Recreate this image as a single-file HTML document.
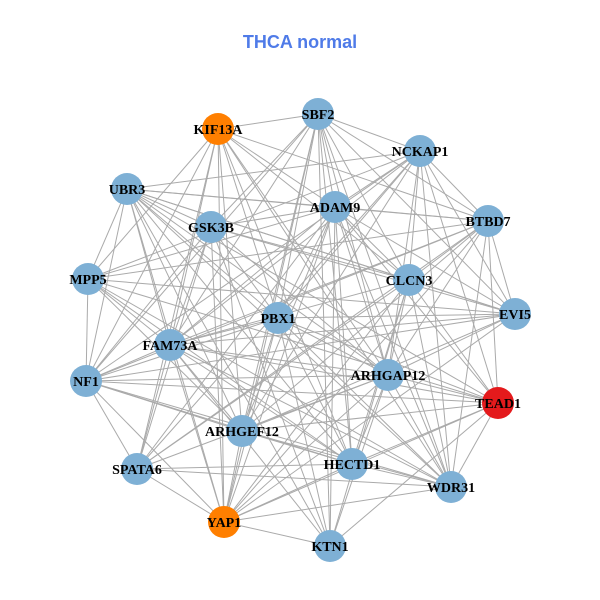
<!DOCTYPE html>
<html><head><meta charset="utf-8"><style>
html,body{margin:0;padding:0;background:#fff;width:600px;height:600px;overflow:hidden}
</style></head><body>
<svg id="g" width="600" height="600" xmlns="http://www.w3.org/2000/svg">
<rect width="600" height="600" fill="#fff"/>
<text x="300" y="48" text-anchor="middle" font-family="Liberation Sans, sans-serif" font-weight="bold" font-size="18" fill="#4F7BE8">THCA normal</text>
<g id="edges" stroke="#aaaaaa" stroke-width="1"></g>
<g id="nodes"></g>
</svg>
<script>
var N=[["SBF2",318,114,"#7EB0D5"],["KIF13A",218,129,"#FF7F00"],["NCKAP1",420,151,"#7EB0D5"],["UBR3",127,189,"#7EB0D5"],["ADAM9",335,207,"#7EB0D5"],["BTBD7",488,221,"#7EB0D5"],["GSK3B",211,227,"#7EB0D5"],["MPP5",88,279,"#7EB0D5"],["CLCN3",409,280,"#7EB0D5"],["EVI5",515,314,"#7EB0D5"],["PBX1",278,318,"#7EB0D5"],["FAM73A",170,345,"#7EB0D5"],["NF1",86,381,"#7EB0D5"],["ARHGAP12",388,375,"#7EB0D5"],["TEAD1",498,403,"#E41A1C"],["ARHGEF12",242,431,"#7EB0D5"],["HECTD1",352,464,"#7EB0D5"],["WDR31",451,487,"#7EB0D5"],["SPATA6",137,469,"#7EB0D5"],["YAP1",224,522,"#FF7F00"],["KTN1",330,546,"#7EB0D5"]];
var ns="http://www.w3.org/2000/svg",E=document.getElementById("edges"),G=document.getElementById("nodes");
var s=7;function r(){s=(s*9301+49297)%233280;return s/233280;}
for(var i=0;i<N.length;i++)for(var j=i+1;j<N.length;j++){if(r()<0.2)continue;
var l=document.createElementNS(ns,"line");l.setAttribute("x1",N[i][1]);l.setAttribute("y1",N[i][2]);l.setAttribute("x2",N[j][1]);l.setAttribute("y2",N[j][2]);E.appendChild(l);}
N.forEach(function(n){var c=document.createElementNS(ns,"circle");c.setAttribute("cx",n[1]);c.setAttribute("cy",n[2]);c.setAttribute("r",16);c.setAttribute("fill",n[3]);G.appendChild(c);});
N.forEach(function(n){var t=document.createElementNS(ns,"text");t.setAttribute("x",n[1]);t.setAttribute("y",n[2]+5);t.setAttribute("text-anchor","middle");t.setAttribute("font-family","Liberation Serif, serif");t.setAttribute("font-weight","bold");t.setAttribute("font-size","14");t.textContent=n[0];G.appendChild(t);});
</script>
</body></html>
